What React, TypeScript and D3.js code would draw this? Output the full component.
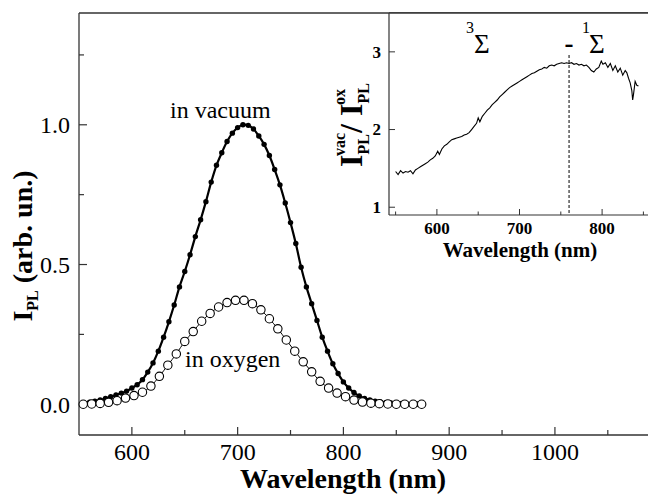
import * as d3 from 'd3';
import React from 'react';

// main panel: PL spectra
const vacWl = [555, 560, 565, 570, 575, 580, 585, 590, 595, 600, 605, 610, 615, 620, 625, 630, 635, 640, 645, 650,
  655, 660, 665, 670, 675, 680, 685, 690, 695, 700, 705, 710, 715, 720, 725, 730, 735, 740, 745, 750,
  755, 760, 765, 770, 775, 780, 785, 790, 795, 800, 805, 810, 815, 820, 825, 830, 835, 840, 845, 850,
  855, 860, 865, 870, 875];
const vacI = [0.004, 0.007, 0.011, 0.015, 0.021, 0.027, 0.033, 0.04, 0.047, 0.058, 0.07, 0.088, 0.115, 0.148, 0.19, 0.24, 0.295, 0.355, 0.42, 0.475,
  0.535, 0.6, 0.66, 0.725, 0.795, 0.855, 0.9, 0.94, 0.97, 0.99, 1.0, 0.998, 0.985, 0.96, 0.93, 0.89, 0.84, 0.785, 0.72, 0.65,
  0.575, 0.49, 0.42, 0.36, 0.3, 0.24, 0.19, 0.145, 0.11, 0.08, 0.058, 0.042, 0.03, 0.021, 0.015, 0.011, 0.008, 0.006, 0.005, 0.004,
  0.003, 0.002, 0.002, 0.001, 0.001];

const oxWl = [554, 562, 570, 578, 586, 594, 602, 610, 618, 626, 634, 642, 650, 658, 666, 674, 682, 690, 698, 706,
  714, 722, 730, 738, 746, 754, 762, 770, 778, 786, 794, 802, 810, 818, 826, 834, 842, 850, 858, 866, 874];
const oxI = [0.0, 0.001, 0.003, 0.007, 0.013, 0.022, 0.031, 0.043, 0.065, 0.1, 0.14, 0.18, 0.225, 0.26, 0.297, 0.325, 0.348, 0.364, 0.372, 0.372,
  0.36, 0.338, 0.306, 0.27, 0.23, 0.19, 0.152, 0.116, 0.082, 0.058, 0.04, 0.027, 0.015, 0.008, 0.004, 0.002, 0.001, 0.0, 0.0, 0.0, 0.0];

// inset: ratio vacuum / oxygen
const ratioWl = [550, 553, 556, 559, 562, 565, 568, 571, 574, 577, 580, 583, 586, 589, 592, 595, 598, 601, 603, 606,
  609, 612, 615, 618, 621, 624, 627, 630, 633, 636, 639, 642, 645, 648, 650, 652, 655, 658, 661, 664,
  667, 670, 673, 676, 679, 682, 685, 688, 691, 694, 697, 700, 703, 706, 709, 712, 715, 718, 721, 724,
  727, 730, 733, 736, 739, 742, 745, 748, 751, 754, 757, 760, 763, 766, 769, 772, 775, 778, 781, 784,
  787, 790, 793, 796, 799, 801, 804, 807, 810, 813, 816, 819, 822, 825, 828, 830, 832, 834, 836, 837,
  838, 840, 842, 844];
const ratioV = [1.46, 1.42, 1.47, 1.44, 1.46, 1.45, 1.47, 1.43, 1.48, 1.5, 1.52, 1.54, 1.56, 1.58, 1.61, 1.63, 1.66, 1.72, 1.68, 1.75,
  1.79, 1.81, 1.84, 1.87, 1.88, 1.89, 1.9, 1.91, 1.93, 1.94, 1.96, 2.0, 2.04, 2.08, 2.15, 2.1, 2.17, 2.21, 2.25, 2.28,
  2.32, 2.35, 2.38, 2.42, 2.45, 2.48, 2.51, 2.54, 2.56, 2.58, 2.6, 2.62, 2.64, 2.66, 2.68, 2.7, 2.72, 2.73, 2.75, 2.77,
  2.78, 2.8, 2.79, 2.82, 2.83, 2.82, 2.84, 2.85, 2.86, 2.85, 2.86, 2.85, 2.86, 2.84, 2.85, 2.83, 2.84, 2.82, 2.83, 2.8,
  2.76, 2.74, 2.78, 2.8, 2.88, 2.84, 2.86, 2.8, 2.85, 2.76, 2.82, 2.74, 2.79, 2.7, 2.76, 2.73, 2.66, 2.6, 2.5, 2.38,
  2.45, 2.62, 2.57, 2.56];

const transitionWl = 760;

const mainXTicks = [600, 700, 800, 900, 1000];
const mainXMinor = [650, 750, 850, 950, 1050];
const mainYTicks = [0, 0.5, 1.0];
const mainYMinor = [0.25, 0.75, 1.25];
const insetXTicks = [600, 700, 800];
const insetXMinor = [550, 650, 750, 850];
const insetYTicks = [1, 2, 3];

export default function App() {
  const x = d3.scaleLinear().domain([550, 1088]).range([79, 648]);
  const y = d3.scaleLinear().domain([-0.11, 1.4]).range([435, 13]);

  const ix = d3.scaleLinear().domain([542, 858]).range([389, 650]);
  const iy = d3.scaleLinear().domain([0.9, 3.5]).range([215, 13]);

  const vac = vacWl.map((w, i) => [w, vacI[i]] as [number, number]);
  const ox = oxWl.map((w, i) => [w, oxI[i]] as [number, number]);
  const ratio = ratioWl.map((w, i) => [w, ratioV[i]] as [number, number]);

  const mainLine = d3.line<[number, number]>()
    .x(d => x(d[0]))
    .y(d => y(d[1]))
    .curve(d3.curveCatmullRom);
  const insetLine = d3.line<[number, number]>()
    .x(d => ix(d[0]))
    .y(d => iy(d[1]));

  return (
    <svg width={648} height={495}
      style={{ position: 'absolute', left: 0, top: 0, background: '#fff', fontFamily: 'Liberation Serif, serif' }}>
      <rect x={0} y={0} width={648} height={495} fill="#fff" />

      {/* main axes */}
      <line x1={79} x2={648} y1={13} y2={13} stroke="#333" strokeWidth={1.3} />
      <line x1={79} x2={79} y1={13} y2={435} stroke="#333" strokeWidth={1.3} />
      <line x1={79} x2={648} y1={435} y2={435} stroke="#333" strokeWidth={1.3} />
      {mainXTicks.map(t => (
        <g key={'mx' + t}>
          <line x1={x(t)} x2={x(t)} y1={435} y2={427} stroke="#333" strokeWidth={1.2} />
          <text x={x(t)} y={460} textAnchor="middle" fontSize={24}>{t}</text>
        </g>
      ))}
      {mainXMinor.map(t => (
        <line key={'mxm' + t} x1={x(t)} x2={x(t)} y1={435} y2={430} stroke="#333" strokeWidth={1.2} />
      ))}
      {mainYTicks.map(t => (
        <g key={'my' + t}>
          <line x1={79} x2={87} y1={y(t)} y2={y(t)} stroke="#333" strokeWidth={1.2} />
          <text x={70} y={y(t)} dy="0.35em" textAnchor="end" fontSize={24}>{t.toFixed(1)}</text>
        </g>
      ))}
      {mainYMinor.map(t => (
        <line key={'mym' + t} x1={79} x2={84} y1={y(t)} y2={y(t)} stroke="#333" strokeWidth={1.2} />
      ))}

      <text x={343} y={488} textAnchor="middle" fontSize={28} fontWeight="bold">Wavelength (nm)</text>
      <text transform="translate(32,246) rotate(-90)" textAnchor="middle" fontSize={28} fontWeight="bold">
        <tspan>I</tspan>
        <tspan fontSize={16} dy={6}>PL</tspan>
        <tspan dy={-6}> (arb. un.)</tspan>
      </text>

      {/* spectra */}
      <path d={mainLine(vac) || ''} fill="none" stroke="#000" strokeWidth={2.2} />
      {vac.map((d, i) => (
        <circle key={'v' + i} cx={x(d[0])} cy={y(d[1])} r={2.7} fill="#000" />
      ))}
      <path d={mainLine(ox) || ''} fill="none" stroke="#000" strokeWidth={1} />
      {ox.map((d, i) => (
        <circle key={'o' + i} cx={x(d[0])} cy={y(d[1])} r={4.2} fill="#fff" stroke="#000" strokeWidth={1.1} />
      ))}

      <text x={170} y={118} fontSize={24}>in vacuum</text>
      <text x={185} y={367} fontSize={24}>in oxygen</text>

      {/* inset */}
      <rect x={389} y={13} width={259} height={202} fill="#fff" />
      <line x1={389} x2={389} y1={13} y2={215} stroke="#333" strokeWidth={1.2} />
      <line x1={389} x2={648} y1={215} y2={215} stroke="#333" strokeWidth={1.2} />
      <line x1={389} x2={648} y1={13} y2={13} stroke="#333" strokeWidth={1.3} />
      {insetXTicks.map(t => (
        <g key={'ix' + t}>
          <line x1={ix(t)} x2={ix(t)} y1={215} y2={209} stroke="#333" strokeWidth={1} />
          <text x={ix(t)} y={234} textAnchor="middle" fontSize={17} fontWeight="bold">{t}</text>
        </g>
      ))}
      {insetXMinor.map(t => (
        <line key={'ixm' + t} x1={ix(t)} x2={ix(t)} y1={215} y2={211.5} stroke="#333" strokeWidth={1} />
      ))}
      {insetYTicks.map(t => (
        <g key={'iy' + t}>
          <line x1={389} x2={395} y1={iy(t)} y2={iy(t)} stroke="#333" strokeWidth={1} />
          <text x={381} y={iy(t)} dy="0.35em" textAnchor="end" fontSize={17} fontWeight="bold">{t}</text>
        </g>
      ))}
      <text x={520} y={257} textAnchor="middle" fontSize={21} fontWeight="bold">Wavelength (nm)</text>
      <text transform="translate(362,125) rotate(-90)" textAnchor="middle" fontSize={32} fontWeight="bold">
        <tspan>I</tspan>
        <tspan fontSize={16} dy={7}>PL</tspan>
        <tspan fontSize={16} dx={-22} dy={-24}>vac</tspan>
        <tspan fontSize={32} dy={17}>/ I</tspan>
        <tspan fontSize={16} dy={7}>PL</tspan>
        <tspan fontSize={16} dx={-22} dy={-24}>ox</tspan>
      </text>

      <path d={insetLine(ratio) || ''} fill="none" stroke="#000" strokeWidth={1.1} />
      <line x1={ix(transitionWl)} x2={ix(transitionWl)} y1={55} y2={215}
        stroke="#000" strokeWidth={1} strokeDasharray="3,2" />
      <text x={466} y={33} fontSize={16}>3</text>
      <text x={474} y={53} fontSize={27}>Σ</text>
      <text x={ix(transitionWl)} y={52} textAnchor="middle" fontSize={27} fontWeight="bold">-</text>
      <text x={582} y={33} fontSize={16}>1</text>
      <text x={589} y={53} fontSize={27}>Σ</text>
    </svg>
  );
}
